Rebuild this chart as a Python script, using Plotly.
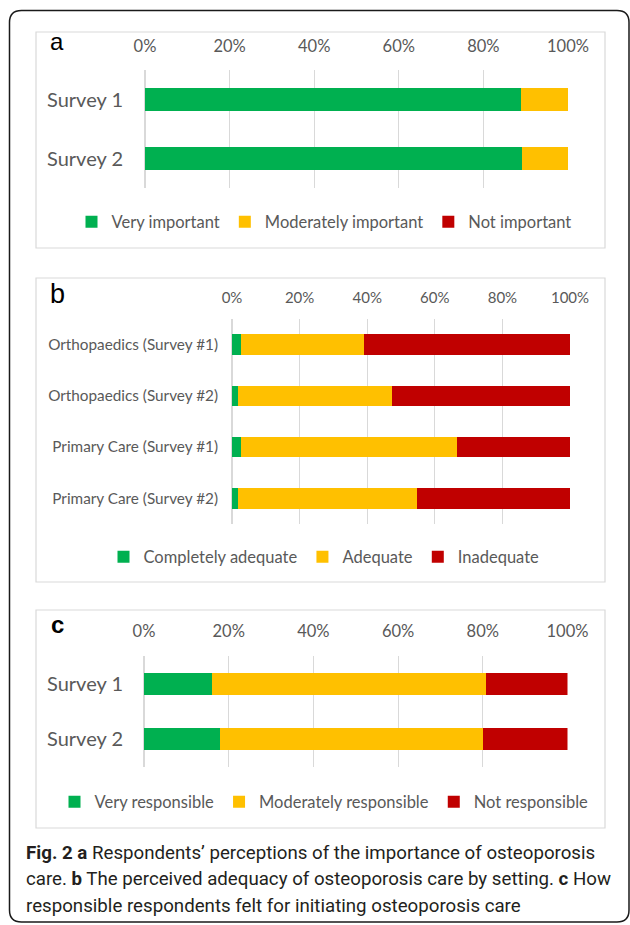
import plotly.graph_objects as go

W, H = 630, 925

# ---------------- data ----------------
a_categories = ["Survey 1", "Survey 2"]
a_very = [88.9, 89.1]
a_moderate = [11.1, 10.9]
a_not = [0.0, 0.0]

b_categories = ["Orthopaedics (Survey #1)", "Orthopaedics (Survey #2)",
                "Primary Care (Survey #1)", "Primary Care (Survey #2)"]
b_complete = [2.7, 1.8, 2.7, 1.8]
b_adequate = [36.3, 45.6, 64.0, 52.8]
b_inadequate = [61.0, 52.6, 33.3, 45.4]

c_categories = ["Survey 1", "Survey 2"]
c_very = [16.0, 17.9]
c_moderate = [64.7, 62.1]
c_not = [19.3, 20.0]

tick_vals = [0, 20, 40, 60, 80, 100]
tick_text = ["0%", "20%", "40%", "60%", "80%", "100%"]

GREEN, YELLOW, RED = "#00B050", "#FFC000", "#C00000"
GRID = "#D9D9D9"
TXT = "#595959"
FONT = "Lato"


def px(x):
    return x / W


def py(y):
    return 1 - y / H


fig = go.Figure()


def add_panel(cats, series, xa, ya, legend):
    for name, vals, col in series:
        fig.add_trace(go.Bar(
            y=cats, x=vals, name=name, orientation="h",
            marker=dict(color=col, line=dict(width=0)),
            xaxis=xa, yaxis=ya, legend=legend, hoverinfo="x+name",
        ))


add_panel(a_categories, [("Very important", a_very, GREEN),
                         ("Moderately important", a_moderate, YELLOW),
                         ("Not important", a_not, RED)], "x", "y", "legend")
add_panel(b_categories, [("Completely adequate", b_complete, GREEN),
                         ("Adequate", b_adequate, YELLOW),
                         ("Inadequate", b_inadequate, RED)], "x2", "y2", "legend2")
add_panel(c_categories, [("Very responsible", c_very, GREEN),
                         ("Moderately responsible", c_moderate, YELLOW),
                         ("Not responsible", c_not, RED)], "x3", "y3", "legend3")


def xaxis(x0, x1, fs, standoff, anchor):
    return dict(domain=[px(x0), px(x1)], range=[0, 100], side="top",
                tickvals=tick_vals, ticktext=tick_text, showgrid=True,
                gridcolor=GRID, gridwidth=1, zeroline=True, zerolinecolor=GRID,
                zerolinewidth=2, showline=False,
                ticks="", tickfont=dict(family=FONT, size=fs, color=TXT),
                ticklabelstandoff=standoff, anchor=anchor, fixedrange=True,
                automargin=False)


def yaxis(y0, y1, fs, standoff, anchor):
    return dict(domain=[py(y1), py(y0)], autorange="reversed", type="category",
                showgrid=False, zeroline=False, showline=False, ticks="",
                tickfont=dict(family=FONT, size=fs, color=TXT),
                ticklabelstandoff=standoff, anchor=anchor, fixedrange=True,
                automargin=False)


def legend(ycen):
    return dict(orientation="h", x=px(324), xanchor="center", y=py(ycen),
                yanchor="middle", font=dict(family=FONT, size=16.5, color=TXT),
                bgcolor="rgba(0,0,0,0)", traceorder="normal")


shapes = []
# panel boxes
for (x0, y0, x1, y1) in [(36, 32, 605, 248), (36, 278, 605, 582), (36, 610, 605, 828)]:
    shapes.append(dict(type="rect", xref="paper", yref="paper",
                       x0=px(x0), x1=px(x1), y0=py(y1), y1=py(y0),
                       line=dict(color=GRID, width=1.2), fillcolor="rgba(0,0,0,0)"))

# outer rounded frame
L, T, R, B, r = 9.5, 10.5, 629, 922, 12
path = (f"M {px(L)},{py(T + r)} Q {px(L)},{py(T)} {px(L + r)},{py(T)} "
        f"L {px(R - r)},{py(T)} Q {px(R)},{py(T)} {px(R)},{py(T + r)} "
        f"L {px(R)},{py(B - r)} Q {px(R)},{py(B)} {px(R - r)},{py(B)} "
        f"L {px(L + r)},{py(B)} Q {px(L)},{py(B)} {px(L)},{py(B - r)} Z")
shapes.append(dict(type="path", xref="paper", yref="paper", path=path,
                   line=dict(color="#1a1a1a", width=1.5)))

annotations = []
for txt, x, y, fs, bold in [("a", 57, 41.5, 24, False), ("b", 57, 293.5, 27, False),
                            ("c", 57, 624.5, 24, True)]:
    annotations.append(dict(text=f"<b>{txt}</b>" if bold else txt, x=px(x), y=py(y),
                            xref="paper", yref="paper", showarrow=False,
                            xanchor="center", yanchor="middle",
                            font=dict(family="Liberation Sans, Arial", size=fs, color="black")))

CAP_FONT = "Roboto"
cap_lines = [
    "<b>Fig. 2</b> <b>a</b> Respondents\u2019 perceptions of the importance of osteoporosis",
    "care. <b>b</b> The perceived adequacy of osteoporosis care by setting. <b>c</b> How",
    "responsible respondents felt for initiating osteoporosis care",
]
for line, y in zip(cap_lines, [853, 879, 906]):
    annotations.append(dict(text=line, x=px(24), y=py(y), xref="paper", yref="paper",
                            showarrow=False, xanchor="left", yanchor="middle",
                            font=dict(family=CAP_FONT, size=18.7, color="#231F20")))

fig.update_layout(
    width=W, height=H, margin=dict(l=0, r=0, t=0, b=0),
    paper_bgcolor="white", plot_bgcolor="white",
    barmode="stack", bargap=0.6,
    showlegend=True,
    xaxis=xaxis(145, 568, 16.5, 14, "y"),
    yaxis=yaxis(70, 188, 20, 21, "x"),
    xaxis2=xaxis(232, 570, 15, 12, "y2"),
    yaxis2=yaxis(319, 524, 15.3, 13, "x2"),
    xaxis3=xaxis(144, 567.5, 16.5, 15, "y3"),
    yaxis3=yaxis(656, 767, 20, 20, "x3"),
    legend=legend(222),
    legend2=legend(557),
    legend3=legend(802),
    shapes=shapes,
    annotations=annotations,
)

fig.write_html("out.html", config={"displayModeBar": False},
               post_script="document.body.style.margin='0';")
